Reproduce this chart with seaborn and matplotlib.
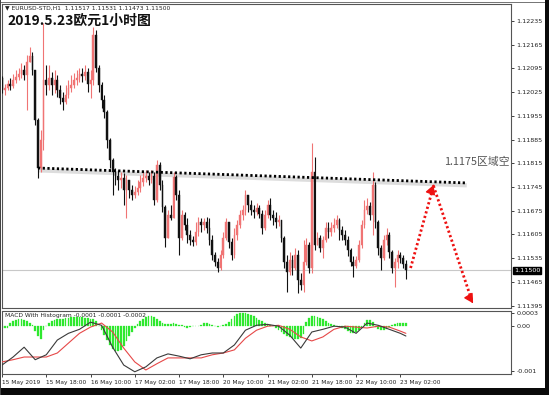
import numpy as np
import pandas as pd
import matplotlib
matplotlib.use("Agg")
import matplotlib.pyplot as plt
import matplotlib.transforms as mtransforms
from matplotlib.patches import Rectangle
import seaborn as sns

# ---------------- data (EURUSD H1) ----------------
first_open = 1.12067
close = [1.12032, 1.12037, 1.12049, 1.12043, 1.12061, 1.12070, 1.12079, 1.12091, 1.12076, 1.12114,
         1.12132, 1.12091, 1.11943, 1.11801, 1.11884, 1.12061, 1.12046, 1.12067, 1.12046, 1.12061,
         1.12032, 1.12008, 1.11996, 1.12017, 1.12037, 1.12046, 1.12061, 1.12067, 1.12079, 1.12073,
         1.12085, 1.12049, 1.12061, 1.12194, 1.12096, 1.12046, 1.12002, 1.11967, 1.11884, 1.11825,
         1.11790, 1.11778, 1.11766, 1.11772, 1.11737, 1.11766, 1.11737, 1.11722, 1.11731, 1.11742,
         1.11760, 1.11772, 1.11778, 1.11766, 1.11778, 1.11707, 1.11810, 1.11751, 1.11686, 1.11595,
         1.11663, 1.11654, 1.11775, 1.11722, 1.11595, 1.11663, 1.11633, 1.11604, 1.11589, 1.11583,
         1.11613, 1.11642, 1.11633, 1.11642, 1.11624, 1.11589, 1.11545, 1.11524, 1.11506, 1.11545,
         1.11595, 1.11642, 1.11583, 1.11545, 1.11604, 1.11633, 1.11663, 1.11678, 1.11722, 1.11692,
         1.11678, 1.11672, 1.11683, 1.11666, 1.11624, 1.11663, 1.11692, 1.11663, 1.11654, 1.11642,
         1.11648, 1.11595, 1.11524, 1.11494, 1.11530, 1.11506, 1.11545, 1.11471, 1.11456, 1.11524,
         1.11574, 1.11506, 1.11790, 1.11574, 1.11595, 1.11565, 1.11589, 1.11624, 1.11613, 1.11624,
         1.11633, 1.11648, 1.11618, 1.11604, 1.11589, 1.11560, 1.11524, 1.11512, 1.11530, 1.11574,
         1.11633, 1.11678, 1.11689, 1.11663, 1.11751, 1.11642, 1.11565, 1.11536, 1.11589, 1.11604,
         1.11554, 1.11506, 1.11524, 1.11545, 1.11536, 1.11517, 1.11500]
high = [1.12073, 1.12049, 1.12061, 1.12067, 1.12079, 1.12091, 1.12096, 1.12111, 1.12105, 1.12135,
        1.12158, 1.12144, 1.12032, 1.11949, 1.11914, 1.12229, 1.12105, 1.12105, 1.12085, 1.12091,
        1.12076, 1.12046, 1.12026, 1.12046, 1.12061, 1.12076, 1.12082, 1.12091, 1.12096, 1.12096,
        1.12105, 1.12096, 1.12091, 1.12217, 1.12209, 1.12105, 1.12055, 1.12017, 1.11972, 1.11890,
        1.11831, 1.11801, 1.11796, 1.11790, 1.11787, 1.11781, 1.11760, 1.11751, 1.11748, 1.11766,
        1.11781, 1.11790, 1.11796, 1.11790, 1.11796, 1.11790, 1.11825, 1.11819, 1.11766, 1.11692,
        1.11678, 1.11692, 1.11790, 1.11781, 1.11737, 1.11678, 1.11672, 1.11654, 1.11618, 1.11601,
        1.11642, 1.11657, 1.11654, 1.11654, 1.11657, 1.11654, 1.11604, 1.11554, 1.11536, 1.11560,
        1.11613, 1.11654, 1.11642, 1.11595, 1.11624, 1.11648, 1.11678, 1.11692, 1.11737, 1.11722,
        1.11707, 1.11692, 1.11698, 1.11692, 1.11678, 1.11678, 1.11707, 1.11713, 1.11678, 1.11672,
        1.11663, 1.11648, 1.11601, 1.11545, 1.11554, 1.11545, 1.11565, 1.11560, 1.11492, 1.11589,
        1.11595, 1.11583, 1.11875, 1.11834, 1.11613, 1.11604, 1.11601, 1.11642, 1.11642, 1.11642,
        1.11654, 1.11663, 1.11654, 1.11630, 1.11618, 1.11601, 1.11565, 1.11542, 1.11542, 1.11589,
        1.11648, 1.11707, 1.11713, 1.11701, 1.11790, 1.11760, 1.11648, 1.11574, 1.11604, 1.11624,
        1.11613, 1.11560, 1.11536, 1.11560, 1.11554, 1.11545, 1.11531]
low = [1.12023, 1.12017, 1.12032, 1.12032, 1.12037, 1.12052, 1.12061, 1.12067, 1.12061, 1.11972,
       1.12114, 1.12076, 1.11928, 1.11772, 1.11790, 1.11855, 1.12017, 1.12032, 1.12017, 1.12023,
       1.12011, 1.11990, 1.11972, 1.11990, 1.12008, 1.12026, 1.12037, 1.12046, 1.12055, 1.12055,
       1.12061, 1.12026, 1.12008, 1.12046, 1.12085, 1.12026, 1.11978, 1.11949, 1.11860, 1.11801,
       1.11722, 1.11751, 1.11737, 1.11742, 1.11692, 1.11654, 1.11713, 1.11707, 1.11713, 1.11722,
       1.11731, 1.11748, 1.11760, 1.11751, 1.11757, 1.11692, 1.11701, 1.11737, 1.11672, 1.11568,
       1.11595, 1.11648, 1.11654, 1.11707, 1.11545, 1.11589, 1.11618, 1.11580, 1.11574, 1.11571,
       1.11574, 1.11601, 1.11613, 1.11618, 1.11610, 1.11574, 1.11530, 1.11512, 1.11494, 1.11500,
       1.11536, 1.11589, 1.11565, 1.11530, 1.11536, 1.11589, 1.11624, 1.11648, 1.11663, 1.11672,
       1.11663, 1.11654, 1.11663, 1.11654, 1.11607, 1.11618, 1.11654, 1.11648, 1.11633, 1.11624,
       1.11630, 1.11583, 1.11506, 1.11436, 1.11486, 1.11486, 1.11500, 1.11433, 1.11442, 1.11436,
       1.11515, 1.11492, 1.11492, 1.11560, 1.11574, 1.11554, 1.11536, 1.11583, 1.11595, 1.11601,
       1.11613, 1.11624, 1.11589, 1.11589, 1.11574, 1.11542, 1.11512, 1.11480, 1.11506, 1.11524,
       1.11565, 1.11624, 1.11666, 1.11648, 1.11604, 1.11624, 1.11545, 1.11500, 1.11530, 1.11574,
       1.11536, 1.11492, 1.11450, 1.11506, 1.11521, 1.11506, 1.11473]

# MACD histogram (one value per bar)
macd_hist = [-0.00004, -0.00004, -0.00004, 0.00007, 0.00011, 0.00013, 0.00016, 0.00016, 0.00013, 0.00011,
             0.00007, 0.00002, -0.00011, -0.00022, -0.00029, -0.00009, 0.0, 0.00007, 0.00011, 0.00013,
             0.00016, 0.00016, 0.00016, 0.00018, 0.00018, 0.00020, 0.00020, 0.00020, 0.00020, 0.00020,
             0.00018, 0.00018, 0.00016, 0.00016, 0.00011, 0.0, -0.00009, -0.00020, -0.00031, -0.00042,
             -0.00051, -0.00056, -0.00056, -0.00053, -0.00044, -0.00033, -0.00022, -0.00013, -0.00004, 0.00004,
             0.00011, 0.00016, 0.00020, 0.00022, 0.00022, 0.00020, 0.00016, 0.00011, 0.00007, 0.00004,
             0.00004, 0.00004, 0.00007, 0.00004, 0.00002, 0.00002, -0.00002, -0.00004, -0.00002, 0.0,
             0.0, 0.0, 0.00002, 0.00007, 0.00007, 0.00004, 0.00002, 0.0, -0.00002, 0.0,
             0.00002, 0.00004, 0.00009, 0.00016, 0.00022, 0.00027, 0.00029, 0.00029, 0.00029, 0.00027,
             0.00024, 0.00022, 0.00018, 0.00013, 0.00011, 0.00007, 0.00004, 0.00002, 0.0, -0.00004,
             -0.00009, -0.00013, -0.00018, -0.00022, -0.00024, -0.00027, -0.00029, -0.00029, -0.00027, -0.00018,
             0.00009, 0.00018, 0.00022, 0.00022, 0.00020, 0.00018, 0.00016, 0.00011, 0.00007, 0.00004,
             0.00002, 0.0, -0.00002, -0.00004, -0.00007, -0.00011, -0.00016, -0.00016, -0.00013, -0.00009,
             -0.00002, 0.00007, 0.00013, 0.00013, 0.00009, -0.00002, -0.00007, -0.00009, -0.00009, -0.00007,
             -0.00002, 0.00002, 0.00004, 0.00007, 0.00007, 0.00007, 0.00007]

# MACD main / signal lines (read every 4 bars)
macd_bar = [0, 4, 8, 12, 16, 20, 24, 28, 32, 36, 40, 44, 48, 52, 56, 60, 64, 68, 72,
            76, 80, 84, 88, 92, 96, 100, 104, 108, 112, 116, 120, 124, 128, 132, 136, 140, 144, 146]
macd_main = [-0.00087, -0.00069, -0.00047, -0.00075, -0.00064, -0.00031, -0.00016, -0.00007, 0.00009, 0.00002,
             -0.00047, -0.00087, -0.00102, -0.00091, -0.00071, -0.00062, -0.00067, -0.00073, -0.00064, -0.00060,
             -0.00060, -0.00042, -0.00009, 0.00002, 0.00004, 0.0, -0.00020, -0.00049, -0.00013, -0.00007,
             0.0, -0.00002, -0.00016, 0.00007, 0.00002, -0.00007, -0.00016, -0.00022]
macd_signal = [-0.00080, -0.00075, -0.00069, -0.00069, -0.00069, -0.00060, -0.00038, -0.00016, -0.00002, 0.00007,
               -0.00013, -0.00049, -0.00080, -0.00098, -0.00084, -0.00071, -0.00071, -0.00071, -0.00071, -0.00064,
               -0.00060, -0.00053, -0.00027, -0.00009, 0.0, 0.00002, -0.00007, -0.00024, -0.00033, -0.00024,
               -0.00007, 0.0, -0.00002, -0.00004, 0.0, -0.00002, -0.00011, -0.00016]

x_tick_bars = [0, 16, 32, 48, 64, 80, 96, 112, 128, 144]
x_tick_labels = ["15 May 2019", "15 May 18:00", "16 May 10:00", "17 May 02:00", "17 May 18:00",
                 "20 May 10:00", "21 May 02:00", "21 May 18:00", "22 May 10:00", "23 May 02:00"]
price_ticks = [1.12235, 1.12165, 1.12095, 1.12025, 1.11955, 1.11885, 1.11815, 1.11745,
               1.11675, 1.11605, 1.11535, 1.11465, 1.11395]
last_price = 1.11500

# annotations (hand drawn on the original)
zone_line_bars = [13, 168]
zone_line_prices = [1.11801, 1.11757]
zone_text = "1.1175区域空"
zone_text_pos = (159.8, 1.11818)
arrow_bars = [147.7, 156.0, 170.0]
arrow_prices = [1.11506, 1.11748, 1.11406]

n = len(close)
if not (len(high) == n and len(low) == n and len(macd_hist) == n
        and len(macd_bar) == len(macd_main) == len(macd_signal)):
    raise SystemExit(f"length mismatch {n} {len(high)} {len(low)} {len(macd_hist)} "
                     f"{len(macd_bar)} {len(macd_main)} {len(macd_signal)}")

opens = [first_open] + close[:-1]
df = pd.DataFrame({"bar": np.arange(n), "open": opens, "close": close, "high": high, "low": low})
df["high"] = df[["high", "open", "close"]].max(axis=1)
df["low"] = df[["low", "open", "close"]].min(axis=1)
df["up"] = df["close"] >= df["open"]

macd_df = pd.DataFrame({"bar": macd_bar, "main": macd_main, "signal": macd_signal})

# ---------------- style ----------------
sns.set_theme(style="white")
plt.rcParams["font.family"] = ["DejaVu Sans", "Noto Sans CJK SC"]

UP = "#f07474"
DOWN = "#111111"
W, H = 549, 395

fig = plt.figure(figsize=(W / 100, H / 100), dpi=100)
fig.patch.set_facecolor("white")

ax = fig.add_axes([2 / W, 1 - 308 / H, 509 / W, 304 / H])
ax2 = fig.add_axes([2 / W, 1 - 374 / H, 509 / W, 63 / H])

XMIN, XMAX = 0.0, 184.0
for a in (ax, ax2):
    a.set_facecolor("white")
    a.set_xlim(XMIN, XMAX)
    for s in a.spines.values():
        s.set_color("#555555")
        s.set_linewidth(0.8)

# ---------------- candles ----------------
colors = np.where(df["up"], UP, DOWN)
ax.vlines(df["bar"], df["low"], df["high"], colors=colors, linewidth=0.8, zorder=3)
body = (df["close"] - df["open"]).to_numpy()
body = np.where(np.abs(body) < 0.00002, 0.00002, body)
ax.bar(df["bar"], body, bottom=df["open"], width=0.62, color=colors,
       edgecolor=colors, linewidth=0.3, zorder=4)

ax.set_ylim(1.11388, 1.12285)
ax.axhline(last_price, color="#c8c8c8", linewidth=0.8, zorder=1)

ax.yaxis.tick_right()
ax.set_yticks(price_ticks)
ax.set_yticklabels([f"{p:.5f}" for p in price_ticks])
ax.tick_params(axis="y", right=True, length=2, width=0.6, pad=2, labelsize=4.6,
               colors="#222222")
ax.set_xticks([])

trans = mtransforms.blended_transform_factory(ax.transAxes, ax.transData)
ax.text(1.006, last_price, f"{last_price:.5f}", transform=trans, fontsize=4.6,
        color="white", ha="left", va="center", zorder=10,
        bbox=dict(boxstyle="square,pad=0.15", facecolor="black", edgecolor="black"))

# resistance zone line (grey shadow + dotted black)
ax.plot(zone_line_bars, [p - 0.00007 for p in zone_line_prices], color="#dddddd",
        linewidth=3.0, solid_capstyle="butt", zorder=2)
ax.plot(zone_line_bars, zone_line_prices, color="black", linewidth=2.0,
        linestyle=(0, (0.8, 0.9)), zorder=5)
ax.text(zone_text_pos[0], zone_text_pos[1], zone_text, fontsize=7.8, color="#555555",
        ha="left", va="center", family=["Noto Sans CJK SC"], zorder=6)

# red dotted arrows
ax.plot(arrow_bars, arrow_prices, color="#ee1111", linewidth=2.0,
        linestyle=(0, (0.8, 0.9)), zorder=6)
ax.annotate("", xy=(arrow_bars[1], arrow_prices[1] + 0.00003),
            xytext=(arrow_bars[1] - 0.5, arrow_prices[1] - 0.00008),
            arrowprops=dict(arrowstyle="-|>,head_length=0.45,head_width=0.25",
                            color="#ee1111", lw=1.0), zorder=7)
ax.annotate("", xy=(arrow_bars[2] + 0.3, arrow_prices[2] - 0.00004),
            xytext=(arrow_bars[2] - 0.6, arrow_prices[2] + 0.00008),
            arrowprops=dict(arrowstyle="-|>,head_length=0.45,head_width=0.25",
                            color="#ee1111", lw=1.0), zorder=7)

# ---------------- MACD panel ----------------
ax2.bar(np.arange(n), macd_hist, width=0.62, color="#2ee82e", edgecolor="#2ee82e",
        linewidth=0.2, zorder=2)
sns.lineplot(data=macd_df, x="bar", y="main", ax=ax2, color="#3a3a3a", linewidth=0.8, zorder=4)
sns.lineplot(data=macd_df, x="bar", y="signal", ax=ax2, color="#e64848", linewidth=0.8, zorder=3)
ax2.set_ylim(-0.00107, 0.00034)
ax2.set_xlim(XMIN, XMAX)
ax2.set_xlabel("")
ax2.set_ylabel("")
ax2.yaxis.tick_right()
ax2.set_yticks([0.0003, 0.0, -0.001])
ax2.set_yticklabels(["0.0003", "0.00", "-0.001"])
ax2.tick_params(axis="y", right=True, length=2, width=0.6, pad=2, labelsize=4.6,
                colors="#222222")
ax2.set_xticks(x_tick_bars)
ax2.set_xticklabels(x_tick_labels)
ax2.tick_params(axis="x", bottom=True, length=2.5, width=0.6, pad=2, labelsize=4.2,
                colors="#222222")
for lab in ax2.get_xticklabels():
    lab.set_horizontalalignment("left")

# ---------------- texts ----------------
fig.text(5 / W, 1 - 8 / H, "▼ EURUSD-STD,H1  1.11517 1.11531 1.11473 1.11500",
         fontsize=4.3, color="#222222", ha="left", va="center")
fig.text(7 / W, 1 - 21 / H, "2019.5.23欧元1小时图", fontsize=10, fontweight="bold",
         color="#111111", ha="left", va="center", family=["Noto Sans CJK SC"])
fig.text(5 / W, 1 - 316 / H, "MACD With Histogram -0.0001 -0.0001 -0.0002",
         fontsize=4.3, color="#222222", ha="left", va="center")

# ---------------- screenshot frame ----------------
fig.patches.append(Rectangle((0, 1 - 3 / H), 1, 1.2 / H, transform=fig.transFigure,
                             facecolor="#777777", edgecolor="none", zorder=20))
fig.patches.append(Rectangle((0, 0), 1, 7 / H, transform=fig.transFigure,
                             facecolor="#0a0a0a", edgecolor="none", zorder=20))
fig.patches.append(Rectangle((545 / W, 0), 4 / W, 1, transform=fig.transFigure,
                             facecolor="#0a0a0a", edgecolor="none", zorder=20))
fig.patches.append(Rectangle((0, 0), 1.2 / W, 1, transform=fig.transFigure,
                             facecolor="#444444", edgecolor="none", zorder=20))

fig.savefig("out.png", dpi=100, facecolor="white")
